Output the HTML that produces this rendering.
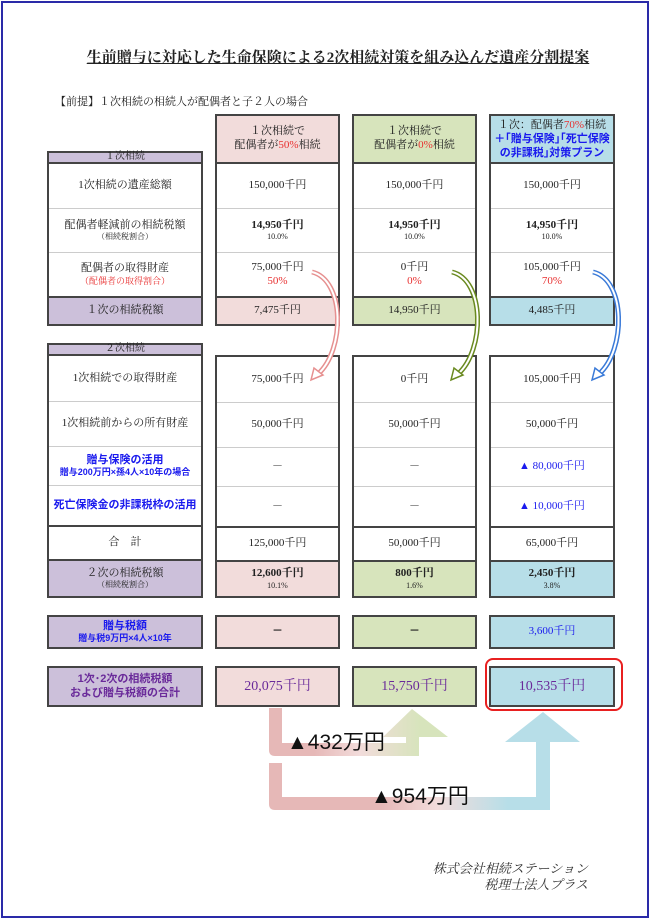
<!DOCTYPE html>
<html><head><meta charset="utf-8">
<style>
*{margin:0;padding:0;box-sizing:border-box}
body{width:650px;height:919px;background:#fff;position:relative;overflow:hidden;font-family:"Liberation Serif","Noto Serif CJK SC",serif;color:#222}
.frame{position:absolute;left:1px;top:1px;width:648px;height:917px;border:2px solid #2a2aa8}
.a{position:absolute}
.box{position:absolute;border:2px solid #444}
.cell{position:absolute;left:0;right:0;display:flex;flex-direction:column;align-items:center;justify-content:center;text-align:center;font-size:11px;line-height:1.25;border-top:1px solid #ccc}
.cell:first-child{border-top:none}
.sep{border-top:2px solid #444 !important}
.sm{font-size:8px}
.r{color:#e83030}
.b{color:#1a1aee;font-family:"Liberation Sans","Noto Sans CJK JP",sans-serif;font-weight:bold}
.pu{background:#ccc0da}.pk{background:#f2dcdb}.gr{background:#d7e4bc}.bl{background:#b7dee8}
.bold{font-weight:bold;font-family:"Liberation Sans","Noto Sans CJK JP",sans-serif}
</style></head><body>
<div class="frame"></div>
<div class="a" style="left:78px;top:46px;width:520px;text-align:center;font-size:15px;text-decoration:underline;font-weight:bold">生前贈与に対応した生命保険による2次相続対策を組み込んだ遺産分割提案</div>
<div class="a" style="left:55px;top:93px;font-size:11px">【前提】１次相続の相続人が配偶者と子２人の場合</div>

<!-- headers -->
<div class="box pk" style="left:215px;top:114px;width:125px;height:50px"><div class="cell" style="top:0;bottom:0;font-size:11px"><div>１次相続で<br>配偶者が<span class="r">50%</span>相続</div></div></div>
<div class="box gr" style="left:352px;top:114px;width:125px;height:50px"><div class="cell" style="top:0;bottom:0;font-size:11px"><div>１次相続で<br>配偶者が<span class="r">0%</span>相続</div></div></div>
<div class="box bl" style="left:489px;top:114px;width:126px;height:50px"><div class="cell" style="top:0;bottom:0;font-size:11px;line-height:1.3"><div style="white-space:nowrap">１次：配偶者<span class="r">70%</span>相続<br><span class="b">＋｢贈与保険｣｢死亡保険<br>の非課税｣対策プラン</span></div></div></div>

<!-- table 1 labels -->
<div class="box" style="left:47px;top:151px;width:156px;height:175px">
 <div class="cell pu" style="top:0;height:11px;font-size:10px;border-bottom:2px solid #444">１次相続</div>
 <div class="cell" style="top:11px;height:44px;border-top:none">1次相続の遺産総額</div>
 <div class="cell" style="top:55px;height:44px">配偶者軽減前の相続税額<span class="sm">（相続税割合）</span></div>
 <div class="cell" style="top:99px;height:44px">配偶者の取得財産<span class="r" style="font-size:9px">（配偶者の取得割合）</span></div>
 <div class="cell pu sep" style="top:143px;height:28px">１次の相続税額</div>
</div>
<!-- table 1 columns -->
<div class="box" style="left:215px;top:162px;width:125px;height:164px">
 <div class="cell" style="top:0;height:44px">150,000千円</div>
 <div class="cell" style="top:44px;height:44px"><b>14,950千円</b><span class="sm">10.0%</span></div>
 <div class="cell" style="top:88px;height:44px">75,000千円<span class="r">50%</span></div>
 <div class="cell pk sep" style="top:132px;height:28px">7,475千円</div>
</div>
<div class="box" style="left:352px;top:162px;width:125px;height:164px">
 <div class="cell" style="top:0;height:44px">150,000千円</div>
 <div class="cell" style="top:44px;height:44px"><b>14,950千円</b><span class="sm">10.0%</span></div>
 <div class="cell" style="top:88px;height:44px">0千円<span class="r">0%</span></div>
 <div class="cell gr sep" style="top:132px;height:28px">14,950千円</div>
</div>
<div class="box" style="left:489px;top:162px;width:126px;height:164px">
 <div class="cell" style="top:0;height:44px">150,000千円</div>
 <div class="cell" style="top:44px;height:44px"><b>14,950千円</b><span class="sm">10.0%</span></div>
 <div class="cell" style="top:88px;height:44px">105,000千円<span class="r">70%</span></div>
 <div class="cell bl sep" style="top:132px;height:28px">4,485千円</div>
</div>

<!-- table 2 labels -->
<div class="box" style="left:47px;top:343px;width:156px;height:255px">
 <div class="cell pu" style="top:0;height:11px;font-size:10px;border-bottom:2px solid #444">２次相続</div>
 <div class="cell" style="top:11px;height:45px;border-top:none">1次相続での取得財産</div>
 <div class="cell" style="top:56px;height:45px">1次相続前からの所有財産</div>
 <div class="cell b" style="top:101px;height:39px">贈与保険の活用<span style="font-size:9px">贈与200万円×孫4人×10年の場合</span></div>
 <div class="cell b" style="top:140px;height:40px">死亡保険金の非課税枠の活用</div>
 <div class="cell sep" style="top:180px;height:34px">合　計</div>
 <div class="cell pu sep" style="top:214px;height:37px">２次の相続税額<span class="sm">（相続税割合）</span></div>
</div>
<div class="box" style="left:215px;top:355px;width:125px;height:243px">
 <div class="cell" style="top:0;height:45px">75,000千円</div>
 <div class="cell" style="top:45px;height:45px">50,000千円</div>
 <div class="cell" style="top:90px;height:39px">－</div>
 <div class="cell" style="top:129px;height:40px">－</div>
 <div class="cell sep" style="top:169px;height:34px">125,000千円</div>
 <div class="cell pk sep" style="top:203px;height:36px"><b>12,600千円</b><span class="sm">10.1%</span></div>
</div>
<div class="box" style="left:352px;top:355px;width:125px;height:243px">
 <div class="cell" style="top:0;height:45px">0千円</div>
 <div class="cell" style="top:45px;height:45px">50,000千円</div>
 <div class="cell" style="top:90px;height:39px">－</div>
 <div class="cell" style="top:129px;height:40px">－</div>
 <div class="cell sep" style="top:169px;height:34px">50,000千円</div>
 <div class="cell gr sep" style="top:203px;height:36px"><b>800千円</b><span class="sm">1.6%</span></div>
</div>
<div class="box" style="left:489px;top:355px;width:126px;height:243px">
 <div class="cell" style="top:0;height:45px">105,000千円</div>
 <div class="cell" style="top:45px;height:45px">50,000千円</div>
 <div class="cell" style="top:90px;height:39px;color:#1a1aee">▲ 80,000千円</div>
 <div class="cell" style="top:129px;height:40px;color:#1a1aee">▲ 10,000千円</div>
 <div class="cell sep" style="top:169px;height:34px">65,000千円</div>
 <div class="cell bl sep" style="top:203px;height:36px"><b>2,450千円</b><span class="sm">3.8%</span></div>
</div>

<!-- gift tax row -->
<div class="box pu" style="left:47px;top:615px;width:156px;height:34px"><div class="cell b" style="top:0;bottom:0;color:#1a1aee">贈与税額<span style="font-size:9px">贈与税9万円×4人×10年</span></div></div>
<div class="box pk" style="left:215px;top:615px;width:125px;height:34px"><div class="cell bold" style="top:0;bottom:0">－</div></div>
<div class="box gr" style="left:352px;top:615px;width:125px;height:34px"><div class="cell bold" style="top:0;bottom:0">－</div></div>
<div class="box bl" style="left:489px;top:615px;width:126px;height:34px"><div class="cell" style="top:0;bottom:0;color:#1a1aee">3,600千円</div></div>

<!-- totals -->
<div class="box pu" style="left:47px;top:666px;width:156px;height:41px"><div class="cell bold" style="top:0;bottom:0;color:#6a2a9a;font-size:11px"><div>1次･2次の相続税額<br>および贈与税額の合計</div></div></div>
<div class="box pk" style="left:215px;top:666px;width:125px;height:41px"><div class="cell" style="top:0;bottom:0;color:#6a2a9a;font-size:14px">20,075千円</div></div>
<div class="box gr" style="left:352px;top:666px;width:125px;height:41px"><div class="cell" style="top:0;bottom:0;color:#6a2a9a;font-size:14px">15,750千円</div></div>
<div class="box bl" style="left:489px;top:666px;width:126px;height:41px"><div class="cell" style="top:0;bottom:0;color:#6a2a9a;font-size:14px">10,535千円</div></div>
<div class="a" style="left:485px;top:658px;width:138px;height:53px;border:2px solid #e82020;border-radius:8px"></div>

<svg class="a" style="left:0;top:0" width="650" height="919">
<defs>
<linearGradient id="g1" x1="269" x2="420" y1="0" y2="0" gradientUnits="userSpaceOnUse"><stop offset="0.3" stop-color="#e6b8b7"/><stop offset="0.6" stop-color="#f2dcdb"/><stop offset="1" stop-color="#d7e4bc"/></linearGradient>
<linearGradient id="g2" x1="269" x2="550" y1="0" y2="0" gradientUnits="userSpaceOnUse"><stop offset="0.4" stop-color="#e6b8b7"/><stop offset="0.6" stop-color="#f2dcdb"/><stop offset="0.85" stop-color="#b7dee8"/></linearGradient>
</defs>
<path d="M269 708 V750 Q269 756 275 756 H419 V737 H448 L412 709 L383 737 H406 V743 H282 V708 Z" fill="url(#g1)"/>
<path d="M269 763 V804 Q269 810 275 810 H550 V742 H580 L543 712 L505 742 H536 V797 H282 V763 Z" fill="url(#g2)"/>
<g fill="none" stroke-width="5">
<path d="M312 272 C345 280 345 350 318 374" stroke="#e69090"/>
<path d="M452 272 C485 280 485 350 458 374" stroke="#6a8a20"/>
<path d="M593 272 C626 280 626 350 599 374" stroke="#3a7ad8"/>
</g>
<g fill="none" stroke="#fff" stroke-width="2">
<path d="M312 272 C345 280 345 350 318 374"/>
<path d="M452 272 C485 280 485 350 458 374"/>
<path d="M593 272 C626 280 626 350 599 374"/>
</g>
<polygon points="311,380 314,368 323,375" fill="#fff" stroke="#e69090" stroke-width="1.5"/>
<polygon points="451,380 454,368 463,375" fill="#fff" stroke="#6a8a20" stroke-width="1.5"/>
<polygon points="592,380 595,368 604,375" fill="#fff" stroke="#3a7ad8" stroke-width="1.5"/>
</svg>
<div class="a" style="left:287px;top:726px;font-size:21px;font-family:'Liberation Sans','Noto Sans CJK JP',sans-serif;color:#111">▲432万円</div>
<div class="a" style="left:371px;top:780px;font-size:21px;font-family:'Liberation Sans','Noto Sans CJK JP',sans-serif;color:#111">▲954万円</div>

<div class="a" style="left:400px;top:861px;width:188px;text-align:right;font-size:13px;font-style:italic;line-height:16px;color:#333">株式会社相続ステーション<br>税理士法人プラス</div>
</body></html>
